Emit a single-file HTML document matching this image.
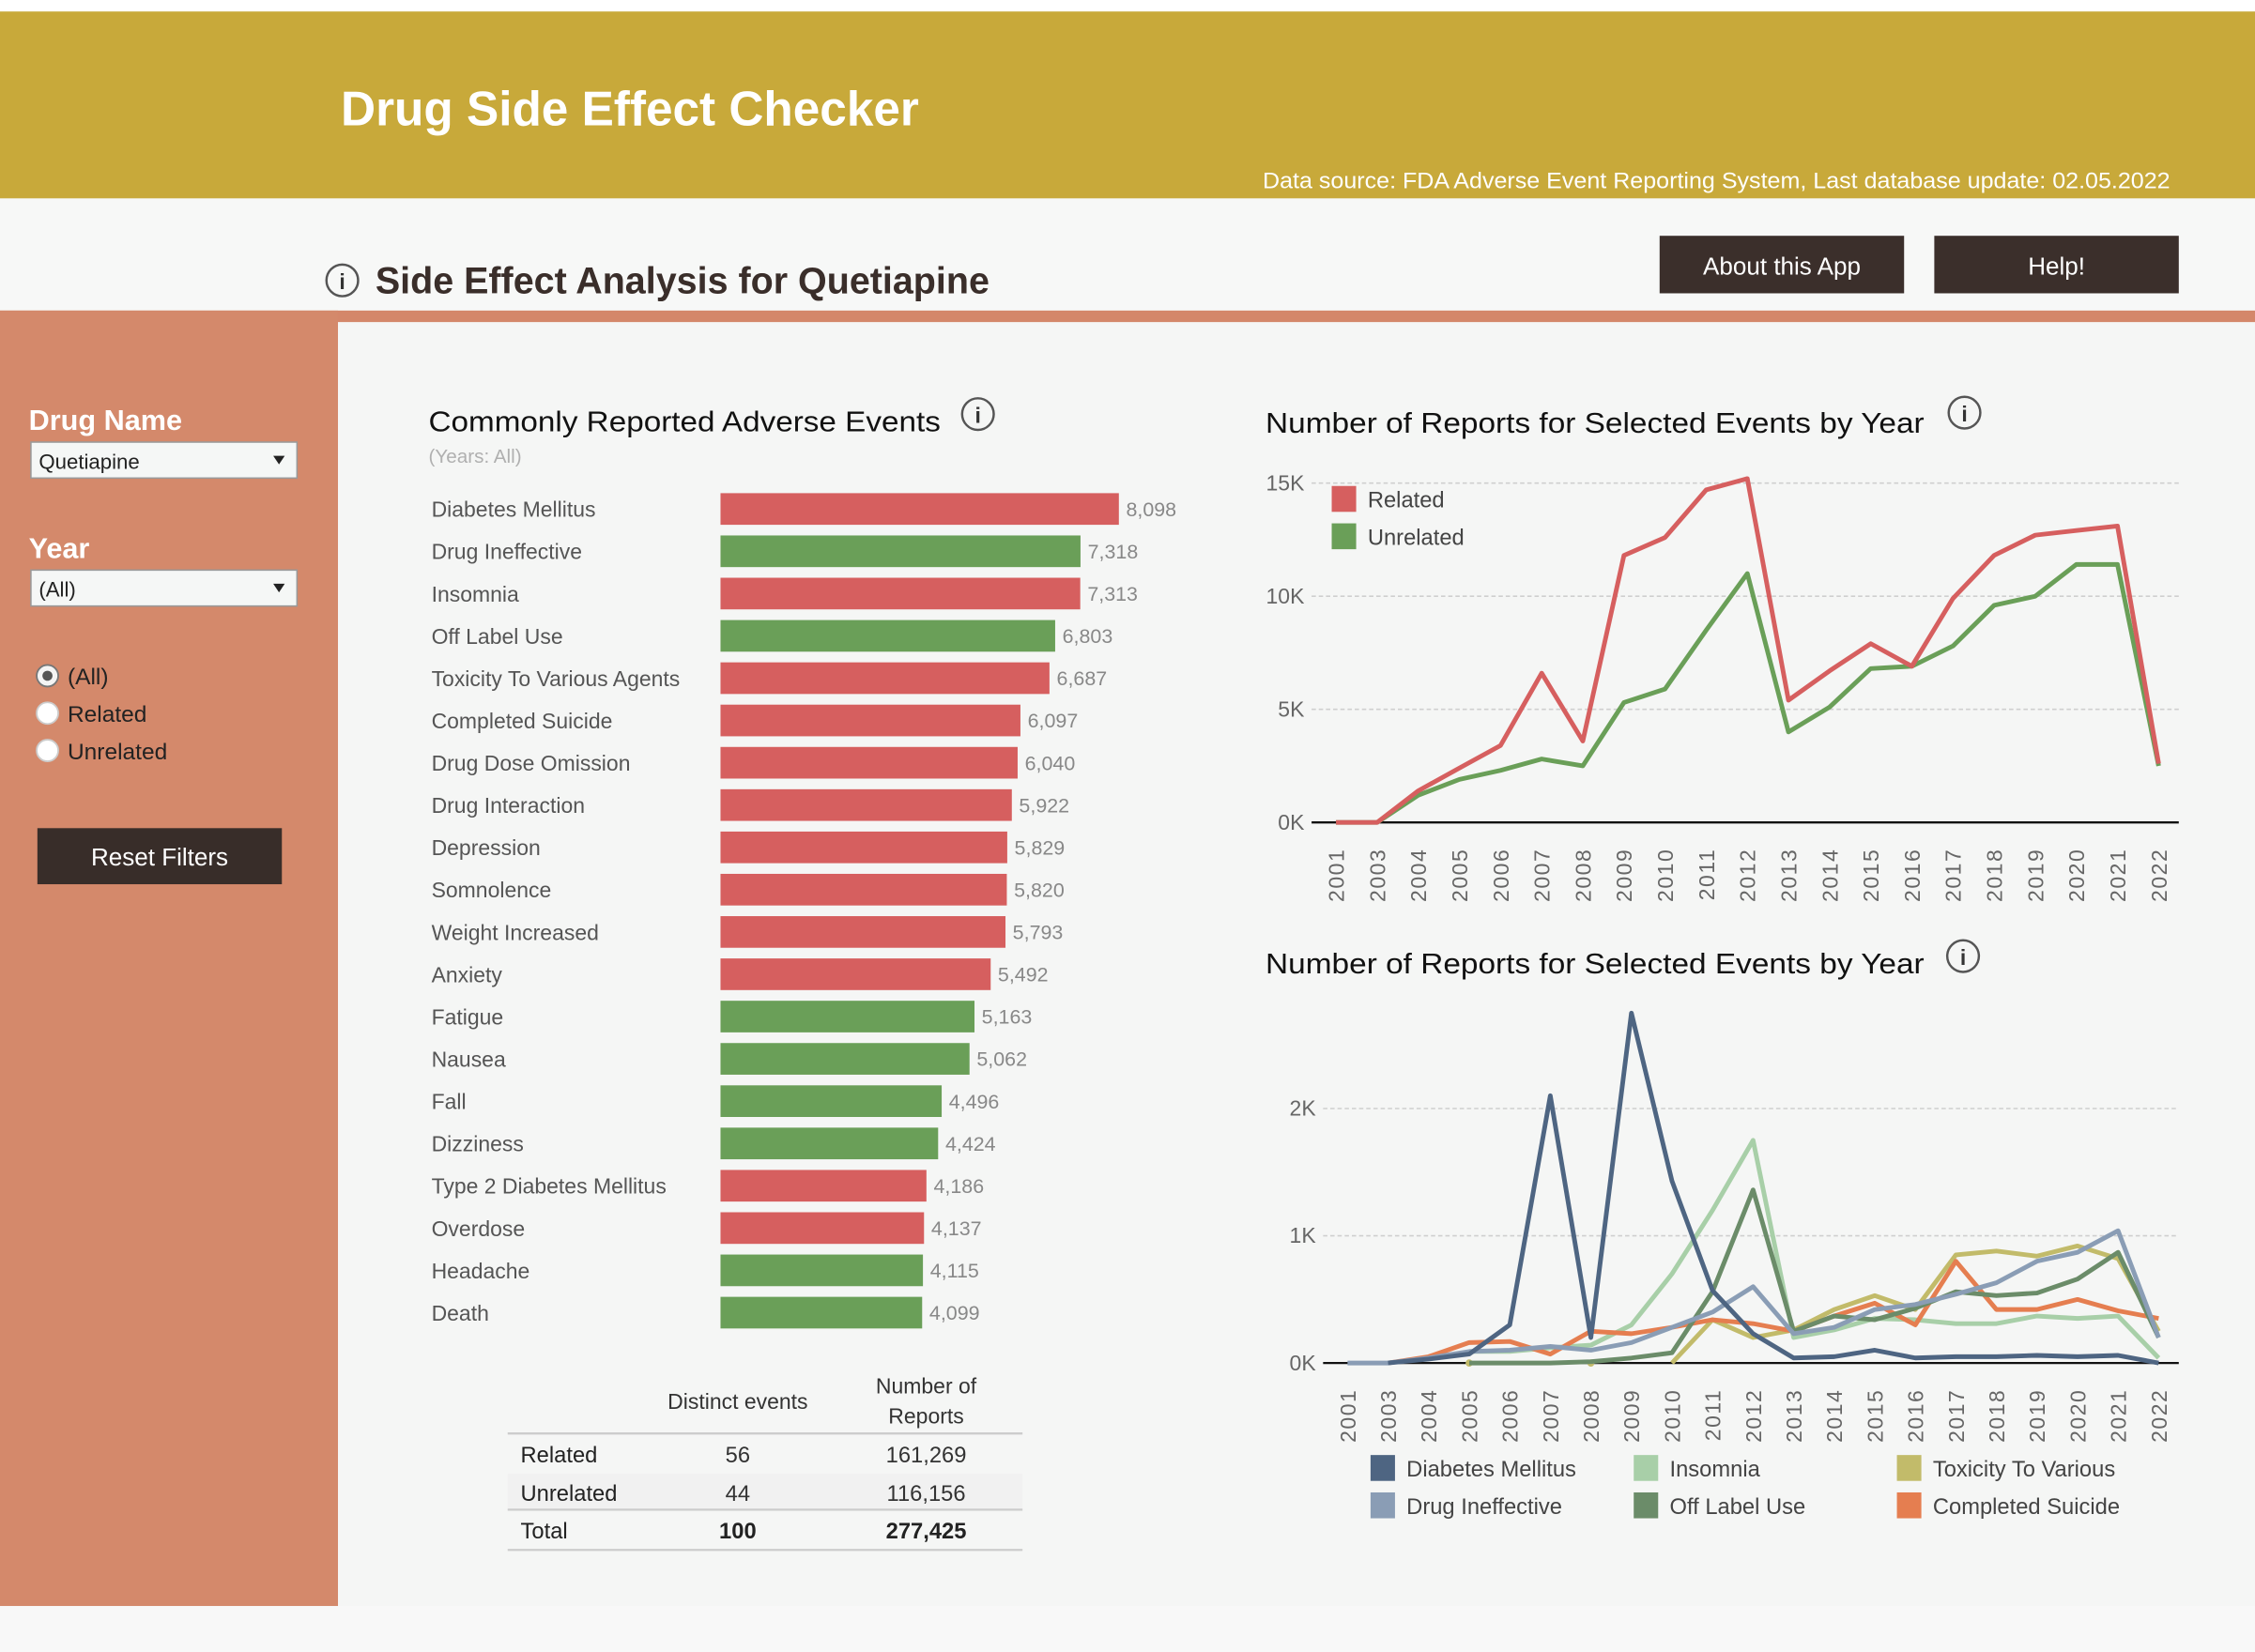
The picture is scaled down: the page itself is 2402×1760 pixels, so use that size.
<!DOCTYPE html>
<html><head><meta charset="utf-8">
<style>
html,body{margin:0;padding:0;background:#f5f6f5;}
svg{display:block;font-family:"Liberation Sans",sans-serif;}
</style></head>
<body>
<svg id="page" width="2402" height="1760" viewBox="0 0 1568 1149" preserveAspectRatio="none" xmlns="http://www.w3.org/2000/svg">
<rect x="0" y="0" width="1568" height="1149" fill="#f5f6f5"/>
<rect x="0" y="0" width="1568" height="8" fill="#ffffff"/>
<rect x="0" y="8" width="1568" height="130" fill="#c8a93a"/>
<text x="237" y="87" font-size="34" font-weight="bold" fill="#ffffff" textLength="402" lengthAdjust="spacingAndGlyphs">Drug Side Effect Checker</text>
<text x="878" y="131" font-size="15.5" fill="#ffffff" textLength="631" lengthAdjust="spacingAndGlyphs">Data source: FDA Adverse Event Reporting System, Last database update: 02.05.2022</text>
<rect x="0" y="138" width="1568" height="78" fill="#f7f8f7"/>
<g><circle cx="238" cy="195" r="11" fill="none" stroke="#555" stroke-width="1.6"/><text x="238" y="201" font-size="15" text-anchor="middle" fill="#333" font-weight="bold">i</text></g>
<text x="261" y="204" font-size="26" font-weight="bold" fill="#3a2e2a" textLength="427" lengthAdjust="spacingAndGlyphs">Side Effect Analysis for Quetiapine</text>
<g><rect x="1154" y="164" width="170" height="40" fill="#3b2f2b"/><text x="1239" y="191" font-size="17" fill="#fff" text-anchor="middle">About this App</text></g>
<g><rect x="1345" y="164" width="170" height="40" fill="#3b2f2b"/><text x="1430" y="191" font-size="17" fill="#fff" text-anchor="middle">Help!</text></g>
<rect x="0" y="216" width="1568" height="8" fill="#d4876a"/>
<rect x="0" y="216" width="235" height="901" fill="#d4896b"/>
<rect x="0" y="1117" width="1568" height="32" fill="#f8f8f8"/>
<text x="20" y="299" font-size="20" font-weight="bold" fill="#fff">Drug Name</text>
<g><rect x="21.5" y="307.5" width="185" height="25" fill="#f5f7f6" stroke="#999"/><text x="27" y="326" font-size="14.5" fill="#222">Quetiapine</text><path d="M190 317 L198 317 L194 323 Z" fill="#222"/></g>
<text x="20" y="388" font-size="20" font-weight="bold" fill="#fff">Year</text>
<g><rect x="21.5" y="396.5" width="185" height="25" fill="#f5f7f6" stroke="#999"/><text x="27" y="415" font-size="14.5" fill="#222">(All)</text><path d="M190 406 L198 406 L194 412 Z" fill="#222"/></g>
<g><circle cx="33" cy="470" r="7.5" fill="#f4f4f4" stroke="#777" stroke-width="1.2"/><circle cx="33" cy="470" r="3.5" fill="#555"/><text x="47" y="476" font-size="16" fill="#222">(All)</text></g>
<g><circle cx="33" cy="496" r="7.5" fill="#fff" stroke="#ccc" stroke-width="1.2"/><text x="47" y="502" font-size="16" fill="#222">Related</text></g>
<g><circle cx="33" cy="522" r="7.5" fill="#fff" stroke="#ccc" stroke-width="1.2"/><text x="47" y="528" font-size="16" fill="#222">Unrelated</text></g>
<g><rect x="26" y="576" width="170" height="39" fill="#382d29"/><text x="111" y="602" font-size="17" fill="#fff" text-anchor="middle">Reset Filters</text></g>

<text x="298" y="300" font-size="20" fill="#111" textLength="356" lengthAdjust="spacingAndGlyphs">Commonly Reported Adverse Events</text>
<g><circle cx="680" cy="288" r="11" fill="none" stroke="#555" stroke-width="1.6"/><text x="680" y="294" font-size="15" text-anchor="middle" fill="#333" font-weight="bold">i</text></g>
<text x="298" y="322" font-size="13.5" fill="#b0b0b0">(Years: All)</text>
<g id="bars"></g>

<g>
<text x="513" y="980" font-size="15" fill="#333" text-anchor="middle">Distinct events</text>
<text x="644" y="969" font-size="15" fill="#333" text-anchor="middle">Number of</text>
<text x="644" y="990" font-size="15" fill="#333" text-anchor="middle">Reports</text>
<line x1="353" y1="997" x2="711" y2="997" stroke="#ccc" stroke-width="1.5"/>
<rect x="353" y="1025" width="358" height="25" fill="#f1f1f1"/>
<line x1="353" y1="1050" x2="711" y2="1050" stroke="#ccc" stroke-width="1.5"/>
<line x1="353" y1="1078" x2="711" y2="1078" stroke="#ccc" stroke-width="1.5"/>
<text x="362" y="1017" font-size="15.5" fill="#222">Related</text><text x="513" y="1017" font-size="15.5" fill="#333" text-anchor="middle">56</text><text x="644" y="1017" font-size="15.5" fill="#333" text-anchor="middle">161,269</text>
<text x="362" y="1044" font-size="15.5" fill="#222">Unrelated</text><text x="513" y="1044" font-size="15.5" fill="#333" text-anchor="middle">44</text><text x="644" y="1044" font-size="15.5" fill="#333" text-anchor="middle">116,156</text>
<text x="362" y="1070" font-size="15.5" fill="#222">Total</text><text x="513" y="1070" font-size="15.5" fill="#222" text-anchor="middle" font-weight="bold">100</text><text x="644" y="1070" font-size="15.5" fill="#222" text-anchor="middle" font-weight="bold">277,425</text>
</g>

<text x="880" y="301" font-size="20" fill="#111" textLength="458" lengthAdjust="spacingAndGlyphs">Number of Reports for Selected Events by Year</text>
<g><circle cx="1366" cy="287" r="11" fill="none" stroke="#555" stroke-width="1.6"/><text x="1366" y="293" font-size="15" text-anchor="middle" fill="#333" font-weight="bold">i</text></g>
<g id="chart1"></g>

<text x="880" y="677" font-size="20" fill="#111" textLength="458" lengthAdjust="spacingAndGlyphs">Number of Reports for Selected Events by Year</text>
<g><circle cx="1365" cy="665" r="11" fill="none" stroke="#555" stroke-width="1.6"/><text x="1365" y="671" font-size="15" text-anchor="middle" fill="#333" font-weight="bold">i</text></g>
<g id="chart2"></g>
</svg>
<script>
const NS="http://www.w3.org/2000/svg";
const barCategories=["Diabetes Mellitus","Drug Ineffective","Insomnia","Off Label Use","Toxicity To Various Agents","Completed Suicide","Drug Dose Omission","Drug Interaction","Depression","Somnolence","Weight Increased","Anxiety","Fatigue","Nausea","Fall","Dizziness","Type 2 Diabetes Mellitus","Overdose","Headache","Death"];
const barValues=[8098,7318,7313,6803,6687,6097,6040,5922,5829,5820,5793,5492,5163,5062,4496,4424,4186,4137,4115,4099];
const barRelated=[1,0,1,0,1,1,1,1,1,1,1,1,0,0,0,0,1,1,0,0];
const years=["2001","2003","2004","2005","2006","2007","2008","2009","2010","2011","2012","2013","2014","2015","2016","2017","2018","2019","2020","2021","2022"];
const relatedSeries=[0,0,1400,2400,3400,6600,3600,11800,12600,14700,15200,5400,6700,7900,6900,9900,11800,12700,12900,13100,2600];
const unrelatedSeries=[0,0,1200,1900,2300,2800,2500,5300,5900,8500,11000,4000,5100,6800,6900,7800,9600,10000,11400,11400,2500];
const ticks1=[0,5000,10000,15000];
const tickLabels1=["0K","5K","10K","15K"];
const N=null;
const seriesDM=[N,0,30,70,300,2100,200,2750,1430,570,230,40,50,100,40,50,50,60,50,60,0];
const seriesDI=[0,0,40,90,100,130,100,160,280,400,600,230,280,420,460,540,630,800,870,1040,200];
const seriesIns=[N,N,N,90,90,120,140,300,700,1200,1750,200,260,350,340,310,310,370,350,370,40];
const seriesOff=[N,N,N,0,0,0,10,40,80,560,1360,250,370,340,430,560,530,550,660,870,200];
const seriesTox=[N,N,N,0,N,N,0,N,0,340,200,260,420,530,420,850,880,840,920,820,250];
const seriesCS=[N,0,50,160,170,70,250,230,280,340,310,250,370,470,300,800,420,420,500,410,350];
const ticks2=[0,1000,2000];
const tickLabels2=["0K","1K","2K"];

function el(tag,attrs,parent){const e=document.createElementNS(NS,tag);for(const k in attrs)e.setAttribute(k,attrs[k]);parent.appendChild(e);return e;}

// Bar chart
const gb=document.getElementById('bars');
const bx0=501, bScale=277/8098, rowY0=354, rowStep=29.42, bh=22;
const bxf=v=>bx0+v*bScale;
barCategories.forEach((c,i)=>{
  const cy=rowY0+i*rowStep;
  const t=el('text',{x:300,y:cy+5.5,'font-size':15,fill:'#555'},gb);t.textContent=c;
  
  
  const r=el('rect',{x:bx0,y:cy-bh/2,width:bxf(barValues[i])-bx0,height:bh,fill:barRelated[i]?'#d65f5f':'#6a9f58'},gb);
  
  
  const v=el('text',{x:bxf(barValues[i])+5,y:cy+5,'font-size':14,fill:'#888'},gb);v.textContent=barValues[i].toLocaleString('en-US');
  
  
});

function lineChart(g,opt){
  const xf=i=>opt.x0+i*(opt.x1-opt.x0)/(years.length-1);
  const yf=v=>opt.y0-v*opt.pxPer;
  opt.ticks.forEach((tv,i)=>{
    if(tv>0){const l=el('line',{x1:opt.gx0,x2:1515,y1:yf(tv),y2:yf(tv),stroke:'#cfcfcf','stroke-dasharray':'3,2','stroke-width':1},g);
    
    }
    const t=el('text',{x:opt.gx0-5,y:yf(tv)+5,'font-size':15,fill:'#666','text-anchor':'end'},g);t.textContent=opt.tickLabels[i];
    
    
  });
  const ax=el('line',{x1:opt.gx0,x2:1515,y1:opt.y0,y2:opt.y0,stroke:'#111','stroke-width':1.5},g);
  
  
  years.forEach((y,i)=>{
    const t=el('text',{transform:`translate(${xf(i)+5.5},${opt.y0+18}) rotate(-90)`,'font-size':15,fill:'#666','text-anchor':'end','letter-spacing':'1'},g);t.textContent=y;
    
    
  });
  opt.series.forEach(s=>{
    let d='',pen=false;
    s.vals.forEach((v,i)=>{
      if(v===null){pen=false;return;}
      const prevNull=(i===0||s.vals[i-1]===null), nextNull=(i===s.vals.length-1||s.vals[i+1]===null);
      if(prevNull&&nextNull){const c=el('circle',{cx:xf(i),cy:yf(v),r:2.5,fill:s.color},g);}
      d+=(pen?'L':'M')+xf(i).toFixed(1)+' '+yf(v).toFixed(1)+' ';pen=true;
    });
    const p=el('path',{d:d,fill:'none',stroke:s.color,'stroke-width':opt.sw,'stroke-linejoin':'round'},g);
    
    
  });
}
const g1=document.getElementById('chart1');
lineChart(g1,{x0:929,x1:1501,gx0:912,y0:572,pxPer:236/15000,ticks:ticks1,tickLabels:tickLabels1,sw:3.2,
 series:[{name:'Unrelated',vals:unrelatedSeries,color:'#6a9f58'},{name:'Related',vals:relatedSeries,color:'#d65f5f'}]});
[['Related','#d65f5f',347],['Unrelated','#6a9f58',373]].forEach(([n,c,y])=>{
  const r=el('rect',{x:926,y:y-9,width:17,height:18,fill:c},g1);
  
  
  const t=el('text',{x:951,y:y+6,'font-size':15.5,fill:'#444'},g1);t.textContent=n;
  
  
});
const g2=document.getElementById('chart2');
lineChart(g2,{x0:937,x1:1501,gx0:920,y0:948,pxPer:88.5/1000,ticks:ticks2,tickLabels:tickLabels2,sw:3.2,
 series:[{name:'Insomnia',vals:seriesIns,color:'#a8cfa8'},{name:'Toxicity',vals:seriesTox,color:'#c2bb6a'},{name:'Completed Suicide',vals:seriesCS,color:'#e57e50'},{name:'Off Label Use',vals:seriesOff,color:'#6b8c69'},{name:'Drug Ineffective',vals:seriesDI,color:'#8a9db5'},{name:'Diabetes Mellitus',vals:seriesDM,color:'#4e6582'}]});
[['Diabetes Mellitus','#4e6582',953,1021],['Drug Ineffective','#8a9db5',953,1047],['Insomnia','#a8cfa8',1136,1021],['Off Label Use','#6b8c69',1136,1047],['Toxicity To Various','#c2bb6a',1319,1021],['Completed Suicide','#e57e50',1319,1047]].forEach(([n,c,x,y])=>{
  const r=el('rect',{x:x,y:y-9,width:17,height:18,fill:c},g2);
  
  
  const t=el('text',{x:x+25,y:y+6,'font-size':15.5,fill:'#444'},g2);t.textContent=n;
  
  
});
</script>
</body></html>
